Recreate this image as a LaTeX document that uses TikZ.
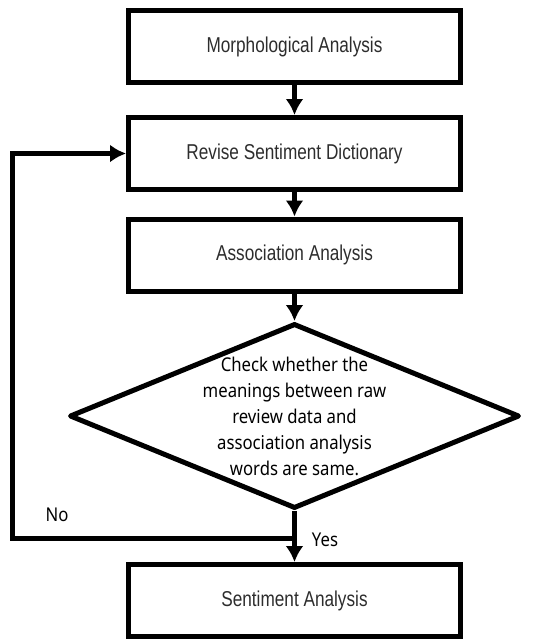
\documentclass[tikz,border=0pt]{standalone}
\usepackage{fontspec}
\usepackage{tikz}
\usetikzlibrary{shapes.geometric,arrows.meta}
\newfontfamily\boxfont[FakeStretch=0.8]{Liberation Sans}
\newfontfamily\checkfont[FakeStretch=0.88]{Noto Sans}
\definecolor{txtgray}{RGB}{45,45,45}
\tikzset{
  procbox/.style={draw, line width=5pt, minimum width=332pt, minimum height=72pt, inner sep=0pt, font=\boxfont\fontsize{21.5}{24}\selectfont, text=txtgray},
  flow/.style={line width=5pt, -{Latex[length=16pt,width=18pt]}},
  lbl/.style={font=\checkfont\fontsize{19}{26}\selectfont},
}

\begin{document}
\begin{tikzpicture}[x=1pt,y=1pt]%1px=1pt
  \useasboundingbox (0,0) rectangle (538,-640);%余白
  \node[procbox] (morph) at (294.5,-46.5) {Morphological Analysis};
  \node[procbox] (revise) at (294.5,-153.5) {Revise Sentiment Dictionary};
  \node[procbox] (assoc) at (294.5,-255) {Association Analysis};
  \node[diamond, draw, line width=5pt, line join=round, minimum width=450pt, minimum height=185pt, inner sep=0pt] (check) at (294.5,-416) {};%判定
  \node[lbl, align=center] (checktext) at (check.center) {Check whether the\\meanings between raw\\review data and\\association analysis\\words are same.};
  \node[procbox] (senti) at (294.5,-600.5) {Sentiment Analysis};
  \coordinate (join) at (294.5,-538);%分岐点
  \coordinate (turn) at (12,-538);
  \draw[flow] (morph) -- (revise);
  \draw[flow] (revise) -- (assoc);
  \draw[flow] (assoc) -- (check.north);
  \draw[line width=5pt] (check.south) -- (join);
  \draw[flow] (join) -- (senti);
  \draw[flow] (join) -- (turn) |- (revise.west);%No
  \node[lbl] (no) at (57,-515) {No};
  \node[lbl] (yes) at (325,-540) {Yes};
\end{tikzpicture}
\end{document}
